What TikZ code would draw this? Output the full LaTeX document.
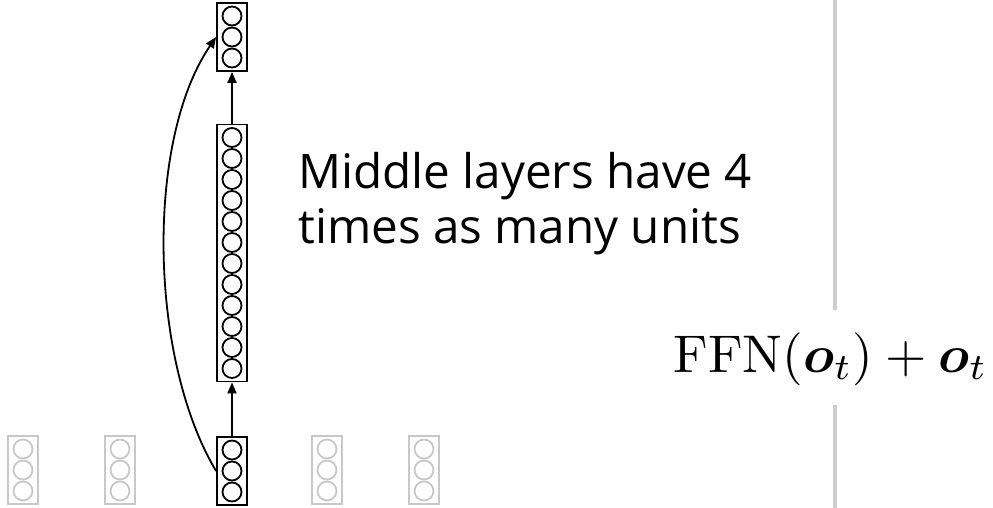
\documentclass[tikz,border=0pt]{standalone}
\usepackage{graphicx}
\usepackage{amsmath,bm}
\usepackage{fontspec}
\newfontfamily\labelfont{Open Sans}
\usetikzlibrary{arrows.meta}
\definecolor{lightgr}{RGB}{200,200,200}
\definecolor{sepgr}{RGB}{205,205,205}
\newcommand\drawlayer[5]{%
  \node[layerbox,#5,minimum height={#4*21+5}] (#1) at (#2,#3) {};
  \foreach \i in {1,...,#4}{%
    \node[unit,#5] (#1-\i) at (#2,{#3+(\i-(#4+1)/2)*21}) {};
  }%
}
\begin{document}
\begin{tikzpicture}[x=1pt,y=-1pt,
  layerbox/.style={draw,rectangle,minimum width=30pt,inner sep=0pt,line width=1.8pt},
  unit/.style={draw,circle,minimum size=19pt,inner sep=0pt,line width=1.8pt},
  faded/.style={draw=lightgr},
  active/.style={draw=black},
  conn/.style={line width=1.8pt,-{Triangle[length=11pt,width=9pt]}},
  sep/.style={draw=sepgr,line width=3.5pt}]
\useasboundingbox (0,0) rectangle (993,508);
% faded input layers
\drawlayer{g1}{23}{470}{3}{faded}
\drawlayer{g2}{120}{470}{3}{faded}
\drawlayer{g3}{327}{470}{3}{faded}
\drawlayer{g4}{424}{470}{3}{faded}
% active column
\drawlayer{bot}{232}{471}{3}{active}
\drawlayer{mid}{232}{253}{12}{active}
\drawlayer{top}{232}{37}{3}{active}
\draw[conn] (bot.north) -- (mid.south);
\draw[conn] (mid.north) -- (top.south);
\draw[conn] (bot.west) .. controls +(-67,-112) and +(-71,104) .. (top.west);
% label
\node[anchor=base west,inner sep=0pt,align=left,font=\labelfont\fontsize{47.6}{55}\selectfont] (lbl) at (298,243)
  {Middle layers have 4\\times as many units};
% formula
\node[anchor=base east,inner sep=0pt] (ffn) at (988,372)
  {\scalebox{5.3}{$\mathrm{FFN}(\bm{o}_t)+\bm{o}_t$}};
% separator
\coordinate (s1) at (835,0);
\coordinate (s2) at (835,310);
\coordinate (s3) at (835,405);
\coordinate (s4) at (835,508);
\draw[sep] (s1) -- (s2);
\draw[sep] (s3) -- (s4);
\end{tikzpicture}
\end{document}
